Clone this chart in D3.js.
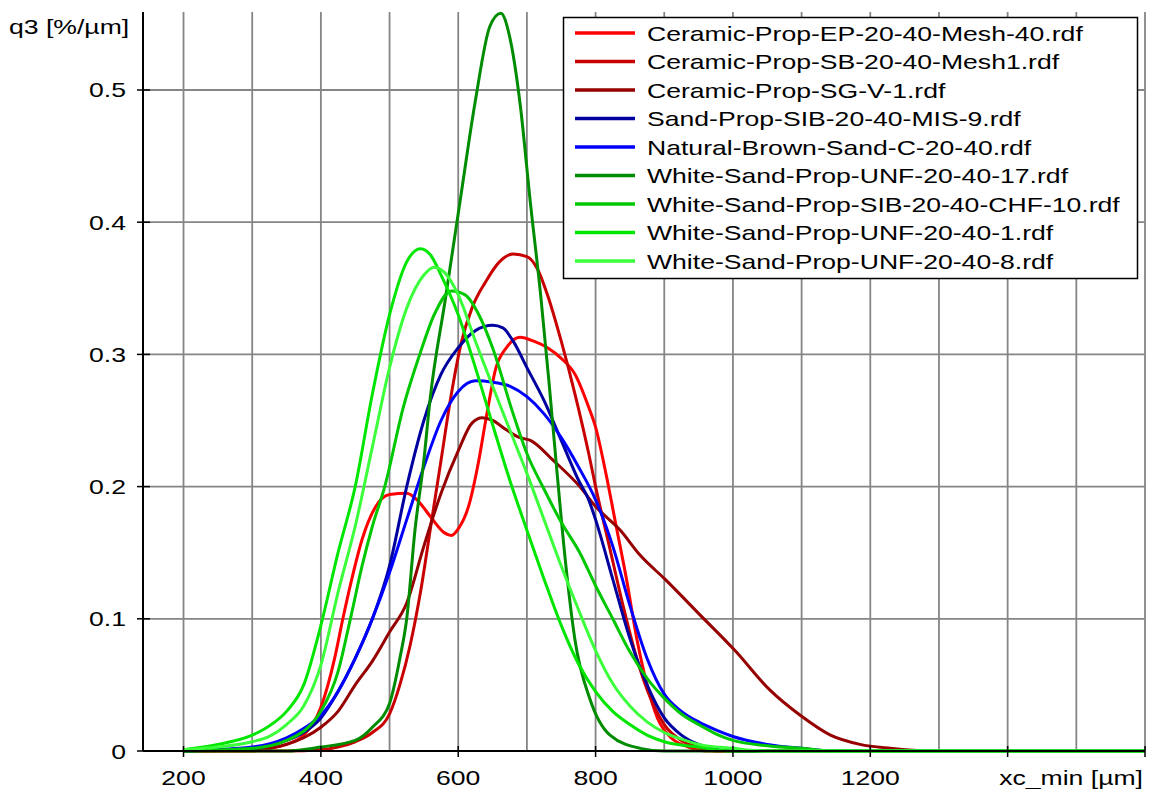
<!DOCTYPE html>
<html>
<head>
<meta charset="utf-8">
<script src="https://cdn.jsdelivr.net/npm/d3@7"></script>
<style>
html,body{margin:0;padding:0;background:#fff;}
svg{display:block;}
text{font-family:"Liberation Sans",Arial,sans-serif;font-size:20px;fill:#000;}
</style>
</head>
<body>
<svg id="chart" width="1149" height="789"></svg>
<script>
// ---------- data ----------
const seriesNames = [
  "Ceramic-Prop-EP-20-40-Mesh-40.rdf",
  "Ceramic-Prop-SB-20-40-Mesh1.rdf",
  "Ceramic-Prop-SG-V-1.rdf",
  "Sand-Prop-SIB-20-40-MIS-9.rdf",
  "Natural-Brown-Sand-C-20-40.rdf",
  "White-Sand-Prop-UNF-20-40-17.rdf",
  "White-Sand-Prop-SIB-20-40-CHF-10.rdf",
  "White-Sand-Prop-UNF-20-40-1.rdf",
  "White-Sand-Prop-UNF-20-40-8.rdf"
];
const seriesColors = ["#ff0000","#c80000","#960000","#0000a0","#0000ff","#008c00","#00c800","#00e600","#3cff3c"];

const epX = [200,300,325,350,375,400,420,432,445,460,480,500,525,540,560,580,590,600,615,630,640,655,670,690,710,730,750,770,790,800,815,830,845,860,875,890,910,930,960,1600];
const epY = [0,0,0.002,0.005,0.012,0.033,0.07,0.1,0.13,0.16,0.185,0.194,0.195,0.19,0.177,0.165,0.163,0.168,0.185,0.22,0.25,0.29,0.305,0.313,0.31,0.305,0.297,0.285,0.26,0.245,0.21,0.17,0.13,0.085,0.05,0.025,0.01,0.004,0,0];

const sbX = [200,350,400,425,450,475,500,515,530,545,560,575,590,605,620,640,660,680,700,715,730,750,770,790,800,820,840,860,880,900,925,950,975,1600];
const sbY = [0,0,0.001,0.003,0.007,0.014,0.028,0.05,0.08,0.12,0.17,0.22,0.27,0.31,0.335,0.355,0.37,0.376,0.374,0.365,0.345,0.31,0.27,0.225,0.2,0.155,0.11,0.07,0.04,0.02,0.008,0.003,0,0];

const sgX = [200,300,350,375,400,425,450,475,500,525,550,575,600,620,635,650,670,690,705,738,777,800,836,865,901,952,1003,1054,1098,1142,1185,1229,1287,1600];
const sgY = [0,0.001,0.005,0.01,0.018,0.03,0.05,0.068,0.09,0.112,0.155,0.195,0.227,0.248,0.252,0.25,0.243,0.237,0.235,0.22,0.2,0.185,0.167,0.148,0.13,0.103,0.076,0.046,0.027,0.012,0.005,0.002,0,0];

const misX = [200,300,350,375,400,425,450,475,500,525,550,575,600,625,650,665,680,700,725,750,775,790,800,825,850,875,900,925,950,1000,1600];
const misY = [0,0.002,0.008,0.014,0.025,0.045,0.07,0.1,0.14,0.2,0.25,0.285,0.305,0.318,0.322,0.32,0.31,0.29,0.265,0.235,0.205,0.19,0.175,0.13,0.085,0.05,0.025,0.012,0.005,0,0];

const nbX = [200,300,350,375,400,425,450,475,500,525,550,575,600,625,650,675,700,725,750,775,800,825,850,875,900,925,950,975,1000,1050,1100,1150,1600];
const nbY = [0,0.003,0.01,0.017,0.027,0.045,0.07,0.1,0.135,0.175,0.215,0.25,0.272,0.28,0.279,0.276,0.268,0.255,0.237,0.215,0.19,0.155,0.11,0.07,0.043,0.03,0.022,0.016,0.011,0.005,0.002,0,0];

const u17X = [200,350,400,450,475,500,515,525,537,550,559,581,603,625,646,662,675,690,705,720,732,744,756,770,792,821,865,900,1600];
const u17Y = [0,0,0.003,0.008,0.018,0.036,0.07,0.1,0.167,0.22,0.266,0.341,0.417,0.492,0.548,0.558,0.54,0.49,0.415,0.345,0.28,0.21,0.144,0.084,0.039,0.012,0.002,0,0];

const chfX = [200,300,350,400,425,443,460,475,493,520,544,565,590,610,630,650,680,700,725,750,777,800,825,850,875,900,925,950,975,1000,1050,1100,1150,1600];
const chfY = [0,0.002,0.008,0.03,0.06,0.1,0.14,0.17,0.2,0.26,0.3,0.33,0.348,0.345,0.33,0.305,0.255,0.225,0.198,0.173,0.15,0.125,0.1,0.075,0.055,0.04,0.028,0.02,0.013,0.008,0.004,0.002,0,0];

const u1X = [200,250,300,325,350,375,400,425,450,475,500,525,545,560,575,600,625,650,675,700,725,750,775,800,825,850,875,900,950,1000,1600];
const u1Y = [0.001,0.005,0.012,0.019,0.03,0.05,0.095,0.15,0.2,0.27,0.33,0.37,0.38,0.375,0.36,0.33,0.29,0.247,0.205,0.167,0.13,0.095,0.066,0.045,0.03,0.02,0.012,0.007,0.003,0,0];

const u8X = [200,250,300,325,350,375,400,425,450,475,500,525,550,565,580,600,625,650,675,700,725,750,775,800,825,850,875,900,925,950,1000,1050,1600];
const u8Y = [0.001,0.003,0.007,0.011,0.02,0.034,0.065,0.12,0.17,0.23,0.29,0.335,0.36,0.366,0.362,0.345,0.31,0.276,0.243,0.21,0.175,0.14,0.107,0.076,0.051,0.034,0.022,0.014,0.009,0.005,0.002,0,0];

const seriesX = [epX, sbX, sgX, misX, nbX, u17X, chfX, u1X, u8X];
const seriesY = [epY, sbY, sgY, misY, nbY, u17Y, chfY, u1Y, u8Y];

const xTickLabels = [200,400,600,800,1000,1200];
const yTicks = [0,0.1,0.2,0.3,0.4,0.5];
const xTitle = "xc_min [µm]";
const yTitle = "q3 [%/µm]";

(function draw() {
  const svg = d3.select("#chart");
  const pL = 143, pR = 1145, pT = 12, pB = 751;
  const x = d3.scaleLinear().domain([141, 1600]).range([pL, pR]);
  const y = d3.scaleLinear().domain([0, 0.559]).range([pB, pT]);
  const SX = 1.33;
  const xGrid = d3.range(200, 1601, 100);

  function txt(xp, yp, s, anchor) {
    svg.append("text")
      .attr("transform", `translate(${xp},${yp}) scale(${SX},1)`)
      .attr("text-anchor", anchor)
      .text(s);
  }

  // grid
  const grid = svg.append("g");
  grid.selectAll("line.v").data(xGrid).join("line").attr("class", "v")
    .attr("x1", d => x(d)).attr("x2", d => x(d))
    .attr("y1", pT).attr("y2", pB)
    .attr("stroke", "#858585").attr("stroke-width", 1.8);
  grid.selectAll("line.h").data(yTicks.filter(d => d > 0)).join("line").attr("class", "h")
    .attr("x1", pL).attr("x2", pR)
    .attr("y1", d => y(d)).attr("y2", d => y(d))
    .attr("stroke", "#858585").attr("stroke-width", 1.8);

  // series
  const line = d3.line().x(d => x(d[0])).y(d => y(d[1])).curve(d3.curveMonotoneX);
  seriesX.forEach((xs, i) => {
    const pts = xs.map((v, j) => [v, seriesY[i][j]]);
    svg.append("path").datum(pts)
      .attr("d", line)
      .attr("fill", "none")
      .attr("stroke", seriesColors[i])
      .attr("stroke-width", 3)
      .attr("stroke-linejoin", "round");
  });

  // axes
  svg.append("line").attr("x1", pL).attr("x2", pL).attr("y1", pT).attr("y2", pB)
    .attr("stroke", "#000").attr("stroke-width", 2);
  svg.append("line").attr("x1", pL).attr("x2", pR).attr("y1", pB).attr("y2", pB)
    .attr("stroke", "#000").attr("stroke-width", 2);

  yTicks.forEach(t => {
    svg.append("line").attr("x1", pL - 6).attr("x2", pL + 7)
      .attr("y1", y(t)).attr("y2", y(t)).attr("stroke", "#000").attr("stroke-width", 1.5);
    txt(126, y(t) + 7.5, t === 0 ? "0" : d3.format(".1f")(t), "end");
  });
  d3.range(200, 1601, 200).forEach(t => {
    svg.append("line").attr("x1", x(t)).attr("x2", x(t))
      .attr("y1", pB - 5).attr("y2", pB + 6).attr("stroke", "#000").attr("stroke-width", 1.5);
  });
  xTickLabels.forEach(t => txt(x(t), 785, String(t), "middle"));
  txt(1143, 785, xTitle, "end");
  txt(9, 34, yTitle, "start");

  // legend
  const lg = svg.append("g");
  lg.append("rect").attr("x", 563.5).attr("y", 17.5).attr("width", 574).attr("height", 261)
    .attr("fill", "#fff").attr("stroke", "#000").attr("stroke-width", 1.5);
  seriesNames.forEach((n, i) => {
    const cy = 33 + i * 28.5;
    lg.append("line").attr("x1", 575).attr("x2", 635).attr("y1", cy).attr("y2", cy)
      .attr("stroke", seriesColors[i]).attr("stroke-width", 3.5);
    lg.append("text")
      .attr("transform", `translate(647,${cy + 7.5}) scale(${SX},1)`)
      .text(n);
  });
})();
</script>
</body>
</html>
